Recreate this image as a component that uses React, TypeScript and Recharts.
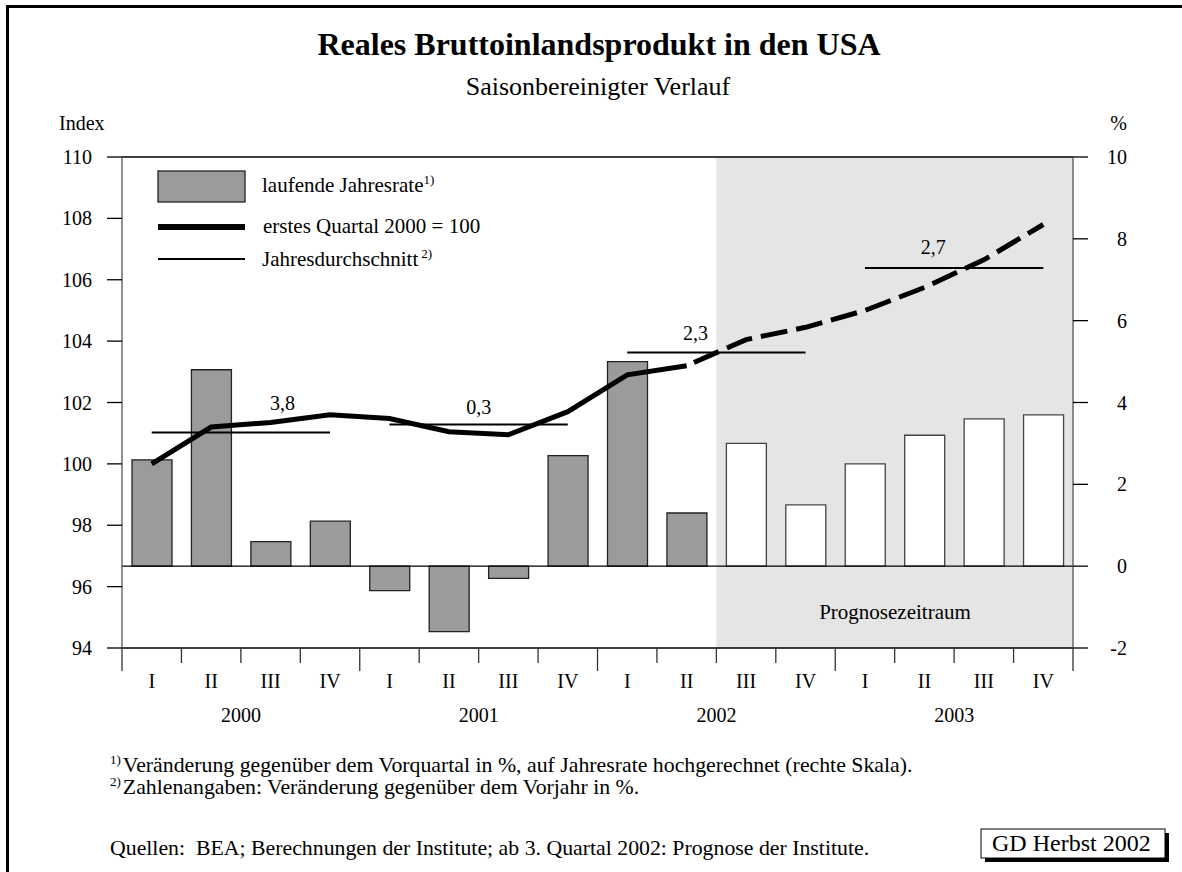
import React from 'react'
import {
  ComposedChart, Bar, Line, XAxis, YAxis, Cell,
  ReferenceLine, ReferenceArea, ReferenceDot,
} from 'recharts'

const FONT = "'Liberation Serif', 'Times New Roman', serif"

// Quartale 2000-2003
const quarters = ['I', 'II', 'III', 'IV', 'I', 'II', 'III', 'IV', 'I', 'II', 'III', 'IV', 'I', 'II', 'III', 'IV']
const years = ['2000', '2001', '2002', '2003']

// laufende Jahresrate in % (rechte Skala)
const growthRate = [2.6, 4.8, 0.6, 1.1, -0.6, -1.6, -0.3, 2.7, 5.0, 1.3, 3.0, 1.5, 2.5, 3.2, 3.6, 3.7]
// Index, erstes Quartal 2000 = 100 (linke Skala)
const indexLevel = [100.0, 101.2, 101.35, 101.6, 101.48, 101.05, 100.95, 101.7, 102.9, 103.2, 104.05, 104.45, 105.0, 105.75, 106.65, 107.8]
// Jahresdurchschnitt des Index und Veraenderung gegenueber Vorjahr
const yearAvgLevel = [101.02, 101.28, 103.63, 106.38]
const yearAvgGrowth = ['3,8', '0,3', '2,3', '2,7']
// Lage der Zahlenangaben (Quartalsposition, Indexhoehe)
const yearLabelPos = [2.7, 6.0, 9.65, 13.65]
const yearLabelLevel = [101.98, 101.85, 104.26, 107.07]

const lastActual = 9 // II/2002, danach Prognose
const leftTicks = [94, 96, 98, 100, 102, 104, 106, 108, 110]
const rightTicks = [-2, 0, 2, 4, 6, 8, 10]
const axisTicks = Array.from({ length: 33 }, (_, i) => i / 2)

const data = quarters.map((q, i) => ({
  q: `${q}-${i}`,
  pos: i + 0.5,
  rate: growthRate[i],
  actual: i <= lastActual ? indexLevel[i] : null,
  forecast: i >= lastActual ? indexLevel[i] : null,
}))

const QuarterTick = (props: any) => {
  const { x, y, payload } = props
  const v = payload.value as number
  if (Number.isInteger(v)) {
    const long = v % 4 === 0
    return (
      <g>
        <line x1={x} x2={x} y1={y} y2={y + (long ? 23 : 15)} stroke="#333" strokeWidth={1.3} />
        {v % 4 === 2 && (
          <text x={x} y={y + 74} textAnchor="middle" fontSize={20} fontFamily={FONT} fill="#000">
            {years[(v - 2) / 4]}
          </text>
        )}
      </g>
    )
  }
  const idx = Math.floor(v)
  return (
    <text x={x} y={y + 40} textAnchor="middle" fontSize={20} fontFamily={FONT} fill="#000">
      {quarters[idx]}
    </text>
  )
}

const RightTick = (props: any) => {
  const { x, y, payload } = props
  return (
    <text x={x} y={y} dy="0.355em" textAnchor="end" fontSize={20} fontFamily={FONT} fill="#000">
      {payload.value}
    </text>
  )
}

export default function App() {
  return (
    <div style={{ position: 'absolute', left: 0, top: 0, width: 1182, height: 872, overflow: 'hidden', background: '#fff', fontFamily: FONT }}>
      <div style={{ position: 'absolute', left: 6, top: 5, width: 1300, height: 1000, borderLeft: '3px solid #000', borderTop: '3px solid #000' }} />
      <div style={{ position: 'absolute', left: 0, top: 0 }}>
        <ComposedChart width={1182} height={730} data={data} margin={{ top: 157, right: 0, bottom: 2, left: 0 }}>
          <XAxis
            xAxisId="num"
            dataKey="pos"
            type="number"
            domain={[0, 16]}
            allowDataOverflow
            ticks={axisTicks}
            interval={0}
            height={80}
            tickSize={0}
            tickMargin={0}
            tickLine={false}
            axisLine={{ stroke: '#000', strokeWidth: 1.3 }}
            tick={<QuarterTick />}
          />
          <XAxis xAxisId="cat" dataKey="q" hide height={0} />
          <YAxis
            yAxisId="left"
            domain={[94, 110]}
            ticks={leftTicks}
            interval={0}
            width={122}
            tickSize={15}
            tickMargin={15}
            axisLine={{ stroke: '#555', strokeWidth: 1.3 }}
            tickLine={{ stroke: '#000', strokeWidth: 1.3 }}
            tick={{ fontSize: 20, fontFamily: FONT, fill: '#000' }}
          />
          <YAxis
            yAxisId="right"
            orientation="right"
            domain={[-2, 10]}
            ticks={rightTicks}
            interval={0}
            width={109}
            tickSize={15}
            tickMargin={39}
            axisLine={{ stroke: '#555', strokeWidth: 1.3 }}
            tickLine={{ stroke: '#000', strokeWidth: 1.3 }}
            tick={<RightTick />}
          />
          <ReferenceArea xAxisId="num" yAxisId="left" x1={10} x2={16} y1={94} y2={110} fill="#e5e5e5" fillOpacity={1} stroke="none" />
          <ReferenceLine yAxisId="left" xAxisId="num" y={110} stroke="#000" strokeWidth={1.3} />
          <Bar xAxisId="cat" yAxisId="right" dataKey="rate" barSize={40} isAnimationActive={false}>
            {data.map((_, i) => (
              <Cell
                key={i}
                fill={i <= lastActual ? '#9b9b9b' : '#ffffff'}
                stroke={i <= lastActual ? '#222' : '#444'}
                strokeWidth={1.3}
              />
            ))}
          </Bar>
          <ReferenceLine yAxisId="right" xAxisId="num" y={0} stroke="#000" strokeWidth={1.3} />
          {yearAvgLevel.map((v, i) => (
            <ReferenceLine
              key={`avg-${i}`}
              xAxisId="num"
              yAxisId="left"
              segment={[{ x: i * 4 + 0.5, y: v }, { x: i * 4 + 3.5, y: v }]}
              stroke="#000"
              strokeWidth={2}
            />
          ))}
          {yearAvgGrowth.map((g, i) => (
            <ReferenceDot
              key={`lbl-${i}`}
              xAxisId="num"
              yAxisId="left"
              x={yearLabelPos[i]}
              y={yearLabelLevel[i]}
              r={0}
              fill="none"
              stroke="none"
              label={{ value: g, position: 'center', fontSize: 20, fontFamily: FONT, fill: '#000' }}
            />
          ))}
          <Line xAxisId="cat" yAxisId="left" dataKey="actual" stroke="#000" strokeWidth={5} dot={false} connectNulls={false} isAnimationActive={false} />
          <Line xAxisId="cat" yAxisId="left" dataKey="forecast" stroke="#000" strokeWidth={5} strokeDasharray="27 9" strokeDashoffset={28} dot={false} connectNulls={false} isAnimationActive={false} />
        </ComposedChart>
      </div>
      <svg width={1182} height={872} style={{ position: 'absolute', left: 0, top: 0, pointerEvents: 'none' }} fontFamily={FONT}>
        <text x={599} y={55} textAnchor="middle" fontSize={32} fontWeight="bold">Reales Bruttoinlandsprodukt in den USA</text>
        <text x={598} y={95} textAnchor="middle" fontSize={26}>Saisonbereinigter Verlauf</text>
        <text x={59} y={130} fontSize={20}>Index</text>
        <text x={1127} y={130} fontSize={20} textAnchor="end">%</text>

        <rect x={158} y={171} width={87} height={31} fill="#9b9b9b" stroke="#222" strokeWidth={1.3} />
        <text x={262} y={192} fontSize={21}>laufende Jahresrate<tspan fontSize={13} dy={-8}>1)</tspan></text>
        <line x1={158} x2={245} y1={227} y2={227} stroke="#000" strokeWidth={6} />
        <text x={263} y={233} fontSize={21}>erstes Quartal 2000 = 100</text>
        <line x1={158} x2={245} y1={259} y2={259} stroke="#000" strokeWidth={2} />
        <text x={262} y={266} fontSize={21}>Jahresdurchschnitt<tspan fontSize={13} dx={3} dy={-8}>2)</tspan></text>

        <text x={895} y={619} textAnchor="middle" fontSize={21}>Prognosezeitraum</text>

        <text x={110} y={772} fontSize={21.8}><tspan fontSize={13} dy={-8}>1)</tspan><tspan dx={2} dy={8}>Veränderung gegenüber dem Vorquartal in %, auf Jahresrate hochgerechnet (rechte Skala).</tspan></text>
        <text x={110} y={794} fontSize={21.8}><tspan fontSize={13} dy={-8}>2)</tspan><tspan dx={2} dy={8}>Zahlenangaben: Veränderung gegenüber dem Vorjahr in %.</tspan></text>
        <text x={110} y={855} fontSize={21.8} style={{ whiteSpace: 'pre' }}>Quellen:  BEA; Berechnungen der Institute; ab 3. Quartal 2002: Prognose der Institute.</text>

        <rect x={985} y={833} width={184} height={29} fill="#000" />
        <rect x={981} y={829} width={184} height={29} fill="#fff" stroke="#000" strokeWidth={1} />
        <text x={992} y={851} fontSize={24}>GD Herbst 2002</text>
      </svg>
    </div>
  )
}
